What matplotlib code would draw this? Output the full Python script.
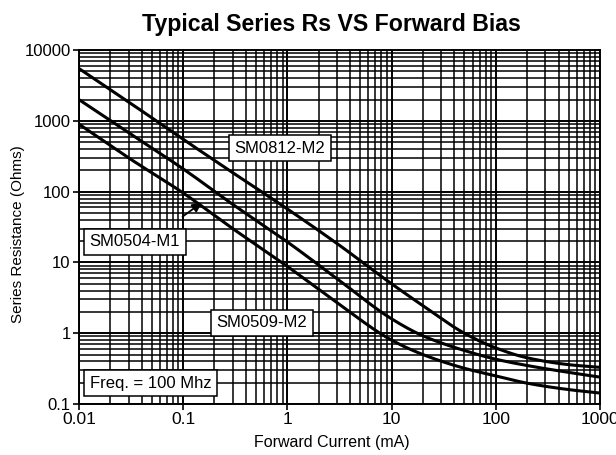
import matplotlib.pyplot as plt
import numpy as np

plt.rcParams["font.family"] = ["Liberation Sans", "DejaVu Sans"]

# Forward current (mA) sample points
current = [0.01, 0.03, 0.1, 0.3, 1, 3, 10, 20, 50, 100, 200, 500, 1000]

# Series resistance (Ohms) for each diode
rs_sm0812 = [5500, 1850, 550, 185, 57, 18.5, 5.0, 2.45, 1.0, 0.62, 0.45, 0.36, 0.33]
rs_sm0504 = [2000, 680, 210, 66, 19.5, 5.9, 1.6, 0.92, 0.57, 0.43, 0.35, 0.28, 0.24]
rs_sm0509 = [900, 300, 96, 30, 8.8, 2.7, 0.8, 0.5, 0.32, 0.25, 0.197, 0.16, 0.143]

x_ticks = [0.01, 0.1, 1, 10, 100, 1000]
x_labels = ["0.01", "0.1", "1", "10", "100", "1000"]
y_ticks = [0.1, 1, 10, 100, 1000, 10000]
y_labels = ["0.1", "1", "10", "100", "1000", "10000"]


def pchip(xs, ys, n=400):
    # monotone cubic through the read points, in log-log space
    x = np.log10(xs)
    y = np.log10(ys)
    h = np.diff(x)
    d = np.diff(y) / h
    m = np.zeros_like(y)
    for i in range(1, len(y) - 1):
        if d[i - 1] * d[i] > 0:
            w1 = 2 * h[i] + h[i - 1]
            w2 = h[i] + 2 * h[i - 1]
            m[i] = (w1 + w2) / (w1 / d[i - 1] + w2 / d[i])
    m[0] = d[0]
    m[-1] = d[-1]
    fx = np.linspace(x[0], x[-1], n)
    idx = np.clip(np.searchsorted(x, fx) - 1, 0, len(h) - 1)
    t = (fx - x[idx]) / h[idx]
    h00 = 2 * t**3 - 3 * t**2 + 1
    h10 = t**3 - 2 * t**2 + t
    h01 = -2 * t**3 + 3 * t**2
    h11 = t**3 - t**2
    fy = h00 * y[idx] + h10 * h[idx] * m[idx] + h01 * y[idx + 1] + h11 * h[idx] * m[idx + 1]
    return 10**fx, 10**fy


fig = plt.figure(figsize=(6.16, 4.55), dpi=100)
ax = fig.add_axes([0.128, 0.112, 0.846, 0.778])

ax.set_xscale("log")
ax.set_yscale("log")
ax.set_xlim(0.01, 1000)
ax.set_ylim(0.1, 10000)

ax.grid(True, which="major", color="black", linewidth=1.4)
ax.grid(True, which="minor", color="black", linewidth=1.1)
ax.set_axisbelow(True)

for rs in (rs_sm0812, rs_sm0504, rs_sm0509):
    xs, ys = pchip(current, rs)
    ax.plot(xs, ys, color="black", linewidth=2.2, zorder=3)

ax.set_xticks(x_ticks)
ax.set_xticklabels(x_labels)
ax.set_yticks(y_ticks)
ax.set_yticklabels(y_labels)
ax.tick_params(axis="x", which="major", labelsize=12.5, length=4, width=1.2, pad=2)
ax.tick_params(axis="y", which="major", labelsize=12, length=4, width=1.2, pad=2)
ax.tick_params(axis="both", which="minor", length=0, labelleft=False, labelbottom=False)
for s in ax.spines.values():
    s.set_linewidth(1.4)

ax.set_xlabel("Forward Current (mA)", fontsize=11.5)
ax.xaxis.set_label_coords(0.486, -0.087)
ax.set_ylabel("Series Resistance (Ohms)", fontsize=11)
ax.yaxis.set_label_coords(-0.104, 0.48)
fig.text(0.538, 0.946, "Typical Series Rs VS Forward Bias", ha="center", va="center",
         fontsize=16.7, fontweight="bold")

box = dict(boxstyle="square,pad=0.35", facecolor="white", edgecolor="black", linewidth=1.1)
ax.text(0.386, 0.723, "SM0812-M2", transform=ax.transAxes, ha="center", va="center",
        fontsize=12, bbox=box, zorder=5)
ax.text(0.107, 0.458, "SM0504-M1", transform=ax.transAxes, ha="center", va="center",
        fontsize=12, bbox=box, zorder=5)
ax.text(0.351, 0.229, "SM0509-M2", transform=ax.transAxes, ha="center", va="center",
        fontsize=12, bbox=box, zorder=5)
ax.text(0.138, 0.059, "Freq. = 100 Mhz", transform=ax.transAxes, ha="center", va="center",
        fontsize=12, bbox=box, zorder=5)

ax.annotate("", xy=(0.159, 74), xytext=(0.094, 42),
            arrowprops=dict(arrowstyle="-|>", color="black", linewidth=1.3, mutation_scale=14),
            zorder=6)

fig.savefig("out.png", dpi=100)
